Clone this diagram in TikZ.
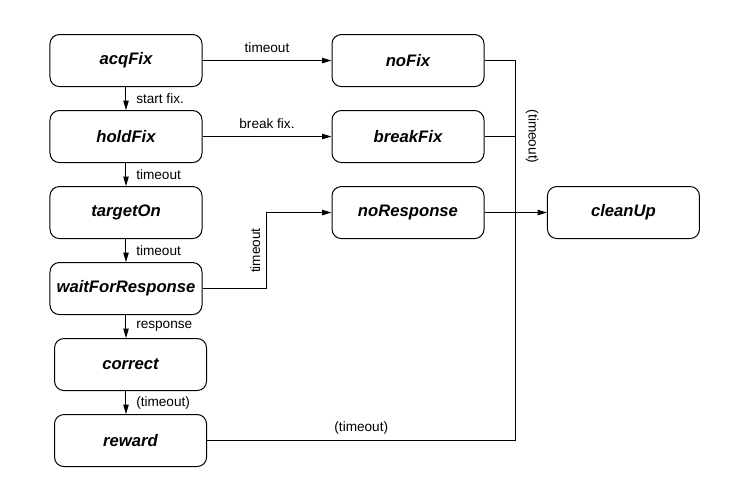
\documentclass[tikz,border=0pt]{standalone}
\usepackage{fontspec}
\setmainfont{Liberation Sans}
\usetikzlibrary{arrows.meta}

\begin{document}
\begin{tikzpicture}[>={Triangle[length=7pt,width=4pt]},line width=0.75pt]
	\tikzstyle{S} = [draw,rounded corners=7pt,minimum width=114pt,minimum height=39pt,font=\fontsize{12.5}{15}\selectfont\bfseries\itshape,node distance=57pt]
	\tikzstyle{L} = [font=\fontsize{10.2}{12}\selectfont]
	\useasboundingbox (-94.5pt,45.4pt) rectangle (468pt,-330.4pt);
	\node[S](acq) at (0,0) {acqFix};
	\node[S,right of=acq,node distance=211.5pt](noFix) {noFix};
	\node[S,below of=acq](hold) {holdFix};
	\node[S,right of=hold,node distance=211.5pt](brk) {breakFix};
	\node[S,below of=hold](tgt) {targetOn};
	\node[S,right of=tgt,node distance=211.5pt](noResp) {noResponse};
	\node[S,right of=noResp,node distance=161.6pt](clean) {cleanUp};
	\node[S,below of=tgt](wait) {waitForResponse};
	\node[S,below of=wait,xshift=3.4pt](corr) {correct};
	\node[S,below of=corr](rew) {reward};
	% left column
	\draw[->](acq) -- node[L,above,yshift=2pt]{timeout} (noFix);
	\draw[->](acq) -- node[L,right,xshift=4pt]{start fix.} (hold);
	\draw[->](hold) -- node[L,above,yshift=2pt]{break fix.} (brk);
	\draw[->](hold) -- node[L,right,xshift=4pt]{timeout} (tgt);
	\draw[->](tgt) -- node[L,right,xshift=4pt]{timeout} (wait);
	\draw[->](wait) -- node[L,right,xshift=4pt]{response} (wait.south |- corr.north);
	\draw[->](corr.south -| wait.south) -- node[L,right,xshift=4pt]{(timeout)} (rew.north -| wait.south);
	% no response
	\coordinate (wc) at ([xshift=48pt]wait.east);
	\draw[->](wait.east) -- (wc) -- node[L,rotate=90,anchor=south,yshift=1pt]{timeout} (wc |- noResp) -- (noResp.west);
	% clean up
	\coordinate (jc) at ([xshift=23.25pt]noFix.east);
	\coordinate (jb) at (jc |- brk.east);
	\draw(noFix.east) -- (jc) -- (jc |- rew.east);
	\draw(brk.east) -- (jb);
	\draw(rew.east) -- node[L,above,yshift=1pt]{(timeout)} (jc |- rew.east);
	\node[L,rotate=-90,anchor=south](tlab) at ([xshift=4pt]jb) {(timeout)};
	\draw[->](noResp) -- (clean);
\end{tikzpicture}
\end{document}
